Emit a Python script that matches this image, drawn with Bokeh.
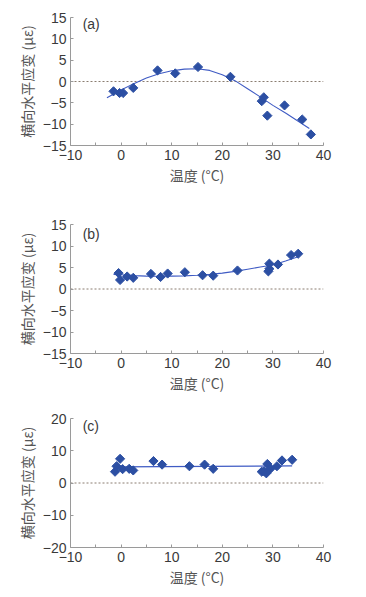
from bokeh.plotting import figure
from bokeh.layouts import column
from bokeh.models import Range1d, FixedTicker, Label
from bokeh.embed import file_html
from bokeh.resources import INLINE
import numpy as np

# ---- data ----
# Panel (a)
a_temp = [-1.5, -0.3, 0.4, 2.4, 7.2, 10.7, 15.2, 21.6, 27.8, 28.2, 28.9, 32.3, 35.8, 37.5]
a_strain = [-2.3, -2.7, -2.7, -1.5, 2.6, 1.9, 3.4, 1.1, -4.6, -3.7, -8.0, -5.6, -8.9, -12.4]
a_fit_temp = [-2.8, 0, 2.5, 5, 7.5, 10, 12.5, 15, 17.5, 20, 22.5, 25, 27.5, 30, 32.5, 35, 37.2]
a_fit_strain = [-3.8, -2.0, -0.5, 0.8, 1.8, 2.5, 2.9, 3.0, 2.6, 1.6, 0.2, -1.7, -3.6, -5.6, -7.4, -9.3, -11.0]

# Panel (b)
b_temp = [-0.5, -0.2, 1.2, 2.4, 5.9, 7.8, 9.2, 12.6, 16.1, 18.2, 23.0, 29.1, 29.3, 29.3, 31.0, 33.6, 35.0]
b_strain = [3.7, 2.1, 2.9, 2.6, 3.5, 2.8, 3.6, 3.9, 3.2, 3.1, 4.3, 4.1, 4.7, 5.9, 5.7, 7.9, 8.2]
b_fit_temp = [-1.5, 0, 2.5, 5, 7.5, 10, 12.5, 15, 17.5, 20, 22.5, 25, 27.5, 30, 32.5, 35]
b_fit_strain = [3.4, 3.3, 3.1, 3.0, 2.95, 3.0, 3.05, 3.2, 3.4, 3.7, 4.1, 4.6, 5.1, 5.6, 6.5, 7.5]

# Panel (c)
c_temp = [-1.2, -0.9, -0.2, 0.3, 1.6, 2.4, 6.4, 8.1, 13.5, 16.5, 18.2, 27.8, 28.3, 28.7, 28.9, 29.5, 30.8, 31.8, 33.8]
c_strain = [3.5, 5.2, 7.5, 4.3, 4.4, 3.9, 6.8, 5.7, 5.2, 5.7, 4.4, 3.5, 3.6, 3.0, 5.9, 4.4, 5.2, 7.0, 7.2]
c_fit_temp = [-1.0, 33.8]
c_fit_strain = [5.0, 5.3]

x_ticks = [-10, 0, 10, 20, 30, 40]
x_minor = [-5, 5, 15, 25, 35]
ab_y_ticks = [-15, -10, -5, 0, 5, 10, 15]
c_y_ticks = [-20, -10, 0, 10, 20]
panel_tags = ["(a)", "(b)", "(c)"]
x_title = "温度 (°C)"
y_title = "横向水平应变 (με)"

MARKER = "#2c4fa3"
LINE = "#3f5bc4"
AXIS = "#9a9a9a"
TXT = "#3a3a3a"
FONT = "Liberation Sans"
CJK = "Noto Sans CJK SC"


def minus(v):
    return ("−" + str(abs(v))) if v < 0 else str(v)


def panel(temp, strain, ftemp, fstrain, yticks, tag, tag_xy, height, top, bottom, left, frame_w):
    ymin, ymax = yticks[0], yticks[-1]
    width = 358
    p = figure(width=width, height=height, output_backend="svg", toolbar_location=None,
               x_range=Range1d(-10, 40), y_range=Range1d(ymin, ymax),
               min_border_left=left, min_border_right=width - left - frame_w,
               min_border_top=top, min_border_bottom=bottom)
    p.outline_line_color = None
    p.xgrid.visible = False
    p.ygrid.visible = False
    p.background_fill_color = None
    p.border_fill_color = None

    # zero reference line
    p.line(x=[-10, 40], y=[0, 0], line_color="#8a7d70", line_dash="2 2", line_width=1)

    p.line(x=ftemp, y=fstrain, line_color=LINE, line_width=1.1)
    p.scatter(x=temp, y=strain, marker="square", angle=np.pi / 4, size=6.5,
              fill_color=MARKER, line_color=MARKER)

    xa = p.xaxis[0]
    xa.ticker = FixedTicker(ticks=x_ticks, minor_ticks=x_minor)
    xa.major_label_overrides = {t: minus(t) for t in x_ticks}
    ya = p.yaxis[0]
    ya.ticker = FixedTicker(ticks=yticks)
    ya.major_label_overrides = {t: minus(t) for t in yticks}
    for ax in (xa, ya):
        ax.axis_line_color = AXIS
        ax.major_tick_line_color = AXIS
        ax.minor_tick_line_color = AXIS
        ax.major_tick_in = 3
        ax.major_tick_out = 0
        ax.minor_tick_in = 3
        ax.minor_tick_out = 0
        ax.major_label_text_font = FONT
        ax.major_label_text_font_size = "14px"
        ax.major_label_text_color = TXT
        ax.axis_label_text_font = CJK
        ax.axis_label_text_font_style = "normal"
        ax.axis_label_text_font_size = "14px"
        ax.axis_label_text_color = "#555555"
    xa.major_label_standoff = 4
    ya.major_label_standoff = 4
    xa.axis_label = x_title
    ya.axis_label = y_title
    xa.axis_label_standoff = 2
    ya.axis_label_standoff = 3

    p.add_layout(Label(x=tag_xy[0], y=tag_xy[1], text=tag, text_font=FONT,
                       text_font_size="14px", text_color=TXT, text_baseline="middle",
                       text_align="left"))
    return p


pa = panel(a_temp, a_strain, a_fit_temp, a_fit_strain, ab_y_ticks, panel_tags[0], (-7.6, 13.4), 195, 17, 50, 70, 256)
pb = panel(b_temp, b_strain, b_fit_temp, b_fit_strain, ab_y_ticks, panel_tags[1], (-7.6, 12.9), 200, 29, 40, 69, 254)
pc = panel(c_temp, c_strain, c_fit_temp, c_fit_strain, c_y_ticks, panel_tags[2], (-7.6, 17.6), 199, 23, 47, 68, 255)

layout = column(pa, pb, pc, spacing=0)
open("out.html", "w").write(file_html(layout, INLINE))
